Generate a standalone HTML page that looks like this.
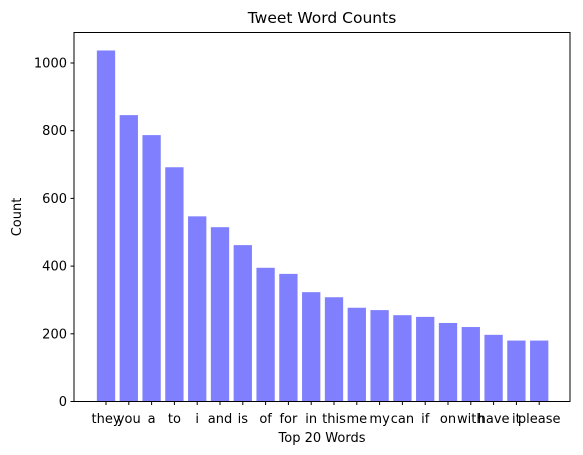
<!DOCTYPE html>
<html><head><meta charset="utf-8"><style>
body{margin:0;background:#fff;}
svg{display:block;font-family:"DejaVu Sans","Liberation Sans",sans-serif;}
</style></head><body>
<svg id="chart" width="583" height="455" xmlns="http://www.w3.org/2000/svg">
<rect width="583" height="455" fill="#fff"/>
<text x="322" y="23" font-size="15.5" text-anchor="middle">Tweet Word Counts</text>
<g id="bars"></g>
<g id="yticks"></g>
<g id="xticks"></g>
<rect x="74" y="32.5" width="496" height="369" fill="none" stroke="#000" stroke-width="1"/>
<text transform="translate(21,217) rotate(-90)" font-size="13" text-anchor="middle">Count</text>
<text x="322" y="442" font-size="13" text-anchor="middle">Top 20 Words</text>
</svg>
<script>
const categories=["they","you","a","to","i","and","is","of","for","in","this","me","my","can","if","on","with","have","it","please"];
const counts=[1037,846,787,692,547,515,462,395,377,323,308,277,270,255,250,232,220,197,180,180];
const yTickValues=[0,200,400,600,800,1000];
const NS="http://www.w3.org/2000/svg";
const xScale=i=>106+i*22.8;
const yScale=v=>401.5-v*0.3385;
const bw=18.3;
const bars=document.getElementById('bars'),yt=document.getElementById('yticks'),xt=document.getElementById('xticks');
function mk(t,a){const e=document.createElementNS(NS,t);for(const k in a)e.setAttribute(k,a[k]);return e;}
counts.forEach((v,i)=>{
 const r=mk('rect',{x:xScale(i)-bw/2,y:yScale(v),width:bw,height:yScale(0)-yScale(v),fill:'#8080ff'});
 
 
 bars.appendChild(r);
 const l=mk('line',{x1:xScale(i),x2:xScale(i),y1:401.5,y2:405,stroke:'#000'});
 
 
 xt.appendChild(l);
 const t=mk('text',{x:xScale(i),y:423,'font-size':13,'text-anchor':'middle'});
 
 
 t.textContent=categories[i];xt.appendChild(t);
});
yTickValues.forEach(v=>{
 const l=mk('line',{x1:70.5,x2:74,y1:yScale(v),y2:yScale(v),stroke:'#000'});
 
 
 yt.appendChild(l);
 const t=mk('text',{x:67,y:yScale(v)+4.5,'font-size':13,'text-anchor':'end'});
 
 
 t.textContent=v;yt.appendChild(t);
});
</script>
</body></html>
